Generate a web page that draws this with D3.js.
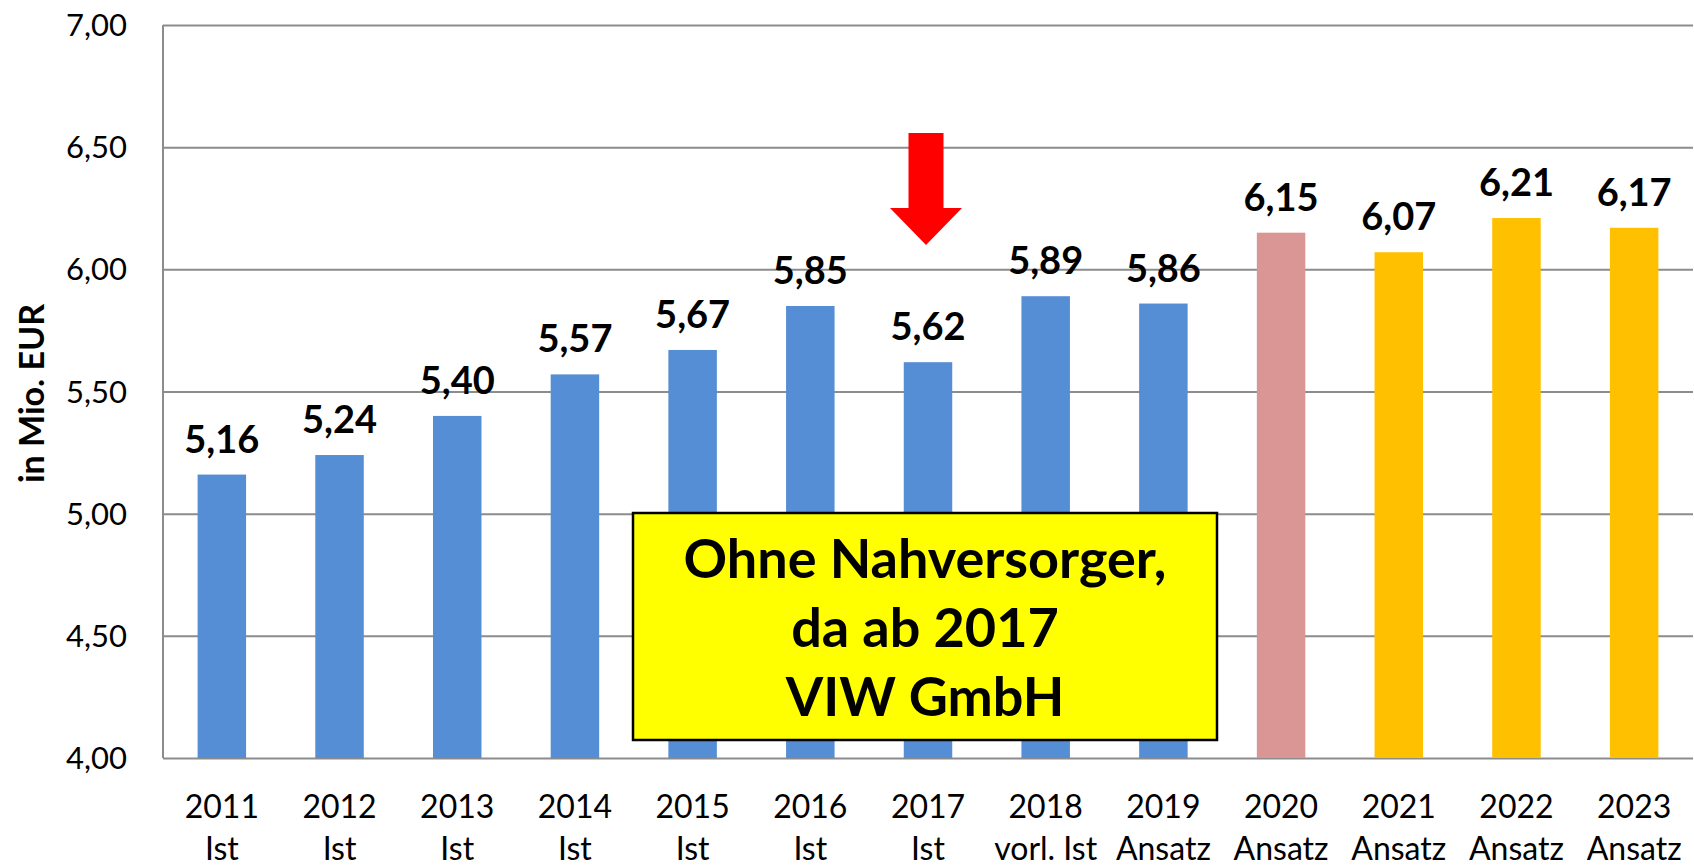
<!DOCTYPE html>
<html>
<head>
<meta charset="utf-8">
<script src="https://cdn.jsdelivr.net/npm/d3@7"></script>
<style>
  body { margin: 0; background: #fff; }
  svg { display: block; font-family: Lato, "Open Sans", sans-serif; }
  .grid line { stroke: #8c8c8c; stroke-width: 2; }
  .grid .domain { display: none; }
</style>
</head>
<body>
<svg id="chart" width="1694" height="867"></svg>
<script>
// values (Mio. EUR)
const years   = ["2011","2012","2013","2014","2015","2016","2017","2018","2019","2020","2021","2022","2023"];
const kinds   = ["Ist","Ist","Ist","Ist","Ist","Ist","Ist","vorl. Ist","Ansatz","Ansatz","Ansatz","Ansatz","Ansatz"];
const values  = [5.16, 5.24, 5.40, 5.57, 5.67, 5.85, 5.62, 5.89, 5.86, 6.15, 6.07, 6.21, 6.17];
const groups  = ["ist","ist","ist","ist","ist","ist","ist","ist","ist","plan1","plan","plan","plan"];
const yTicks  = [4.0, 4.5, 5.0, 5.5, 6.0, 6.5, 7.0];
const noteLines = ["Ohne Nahversorger,", "da ab 2017", "VIW GmbH"];
const arrowYear = "2017";

const colors = { ist: "#558ed5", plan1: "#d99694", plan: "#ffc000" };

const svg = d3.select("#chart");
const margin = {left: 163, right: 1, top: 25, bottom: 109};
const W = 1694, H = 867;

const x = d3.scaleBand().domain(years)
    .range([margin.left, W - margin.right])
    .paddingInner(0.588).paddingOuter(0.294);
const y = d3.scaleLinear().domain([4, 7]).range([H - margin.bottom, margin.top]);

const fmt = v => d3.format(".2f")(v).replace(".", ",");

// gridlines
svg.append("g").attr("class", "grid")
    .attr("transform", `translate(${margin.left},0)`)
    .call(d3.axisLeft(y).tickValues(yTicks).tickSize(-(W - margin.left - margin.right)).tickFormat(""));

// left axis line
svg.append("line")
    .attr("x1", margin.left).attr("x2", margin.left)
    .attr("y1", y(7)).attr("y2", y(4))
    .attr("stroke", "#8c8c8c").attr("stroke-width", 2);

// y tick labels
svg.append("g").selectAll("text").data(yTicks).join("text")
    .attr("x", 127).attr("y", d => y(d))
    .attr("dy", "0.36em")
    .attr("text-anchor", "end")
    .attr("font-size", 31)
    .text(fmt);

// y title
svg.append("text")
    .attr("transform", `translate(44,${(y(4) + y(7)) / 2 + 2}) rotate(-90)`)
    .attr("text-anchor", "middle")
    .attr("font-size", 34).attr("font-weight", "bold")
    .text("in Mio. EUR");

// bars
svg.append("g").selectAll("rect").data(years).join("rect")
    .attr("x", d => x(d))
    .attr("width", x.bandwidth())
    .attr("y", (d, i) => y(values[i]))
    .attr("height", (d, i) => y(4) - y(values[i]))
    .attr("fill", (d, i) => colors[groups[i]]);

// value labels
svg.append("g").selectAll("text").data(years).join("text")
    .attr("x", d => x(d) + x.bandwidth() / 2)
    .attr("y", (d, i) => y(values[i]) - 22)
    .attr("text-anchor", "middle")
    .attr("font-size", 38).attr("font-weight", "bold")
    .text((d, i) => fmt(values[i]));

// x labels, two lines
const xl = svg.append("g").selectAll("text").data(years).join("text")
    .attr("x", d => x(d) + x.bandwidth() / 2)
    .attr("y", 818)
    .attr("text-anchor", "middle")
    .attr("font-size", 32);
xl.append("tspan").text(d => d);
xl.append("tspan")
    .attr("x", d => x(d) + x.bandwidth() / 2)
    .attr("dy", 42)
    .text((d, i) => kinds[i]);

// red arrow above 2017
const ax = x(arrowYear) + x.bandwidth() / 2 - 2;
const arrow = d3.path();
arrow.moveTo(ax - 17.5, 133);
arrow.lineTo(ax + 17.5, 133);
arrow.lineTo(ax + 17.5, 208);
arrow.lineTo(ax + 36, 208);
arrow.lineTo(ax, 245);
arrow.lineTo(ax - 36, 208);
arrow.lineTo(ax - 17.5, 208);
arrow.closePath();
svg.append("path").attr("d", arrow.toString()).attr("fill", "#ff0000");

// yellow note box
svg.append("rect")
    .attr("x", 633).attr("y", 513)
    .attr("width", 584).attr("height", 227)
    .attr("fill", "#ffff00").attr("stroke", "#000").attr("stroke-width", 2.5);

svg.append("g").selectAll("text").data(noteLines).join("text")
    .attr("x", 925).attr("y", (d, i) => 578 + i * 69)
    .attr("text-anchor", "middle")
    .attr("font-size", 54).attr("font-weight", "bold")
    .text(d => d);
</script>
</body>
</html>
